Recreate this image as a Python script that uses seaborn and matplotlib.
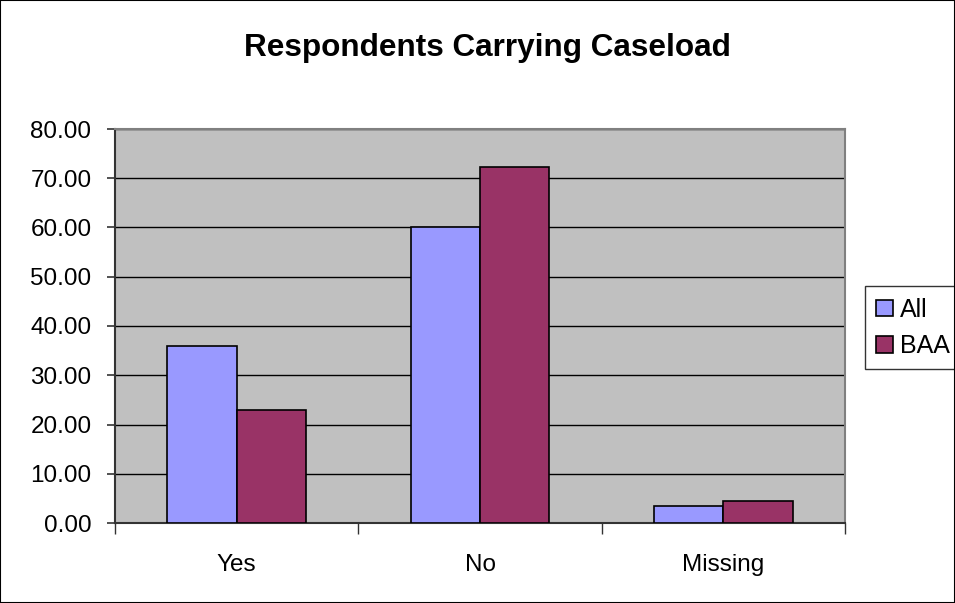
import pandas as pd
import numpy as np
import matplotlib
matplotlib.use("Agg")
import matplotlib.pyplot as plt
import seaborn as sns

# values
categories = ["Yes", "No", "Missing"]
all_values = [36.0, 60.2, 3.45]
baa_values = [22.9, 72.3, 4.4]
series_names = ["All", "BAA"]
y_ticks = [0, 10, 20, 30, 40, 50, 60, 70, 80]

df = pd.DataFrame({
    "Category": categories * 2,
    "Group": [series_names[0]] * 3 + [series_names[1]] * 3,
    "Value": all_values + baa_values,
})

sns.set_style("white")
plt.rcParams["font.family"] = ["Liberation Sans", "DejaVu Sans"]
plt.rcParams["text.color"] = "black"
plt.rcParams["xtick.color"] = "black"
plt.rcParams["ytick.color"] = "black"

fig = plt.figure(figsize=(9.55, 6.03), dpi=100)
ax = fig.add_axes([115 / 955, 1 - 523 / 603, 730 / 955, 394 / 603])
ax.set_facecolor("#C0C0C0")

sns.barplot(data=df, x="Category", y="Value", hue="Group",
            palette=["#9999FF", "#993366"], saturation=1, width=0.57,
            edgecolor="black", linewidth=1.2, ax=ax, zorder=3)

# axes styling
ax.set_ylim(0, 80)
ax.set_xlim(-0.5, 2.5)
ax.set_yticks(y_ticks)
ax.set_yticklabels([f"{v:.2f}" for v in y_ticks], fontsize=17.5)
ax.yaxis.grid(True, color="black", linewidth=1.0, zorder=1)
ax.set_axisbelow(True)
ax.set_xlabel("")
ax.set_ylabel("")
ax.tick_params(axis="x", length=0, labelsize=17.5, pad=22)
ax.tick_params(axis="y", left=True, length=6, width=1.2, color="#333333", pad=11)
ax.set_xticks([-0.5, 0.5, 1.5, 2.5], minor=True)
ax.tick_params(axis="x", which="minor", bottom=True, length=8, width=1.0, color="#333333")

for side in ["top", "right"]:
    ax.spines[side].set_color("#808080")
    ax.spines[side].set_linewidth(1.5)
for side in ["left", "bottom"]:
    ax.spines[side].set_color("#333333")
    ax.spines[side].set_linewidth(1.5)

fig.text(487 / 955, 1 - 48 / 603, "Respondents Carrying Caseload",
         fontsize=22.7, fontweight="bold", ha="center", va="center")

leg = ax.legend(loc="center left", bbox_to_anchor=(750 / 730, 0.495),
                fontsize=18, frameon=True, fancybox=False, edgecolor="black",
                handlelength=0.65, handleheight=0.65, handletextpad=0.3,
                borderpad=0.45, labelspacing=0.5, borderaxespad=0)
leg.get_frame().set_linewidth(1.0)

# outer border of the chart
fig.patches.append(plt.Rectangle((0, 0), 1, 1, transform=fig.transFigure,
                                 fill=False, edgecolor="black", linewidth=1.5))

fig.savefig("out.png", dpi=100)
